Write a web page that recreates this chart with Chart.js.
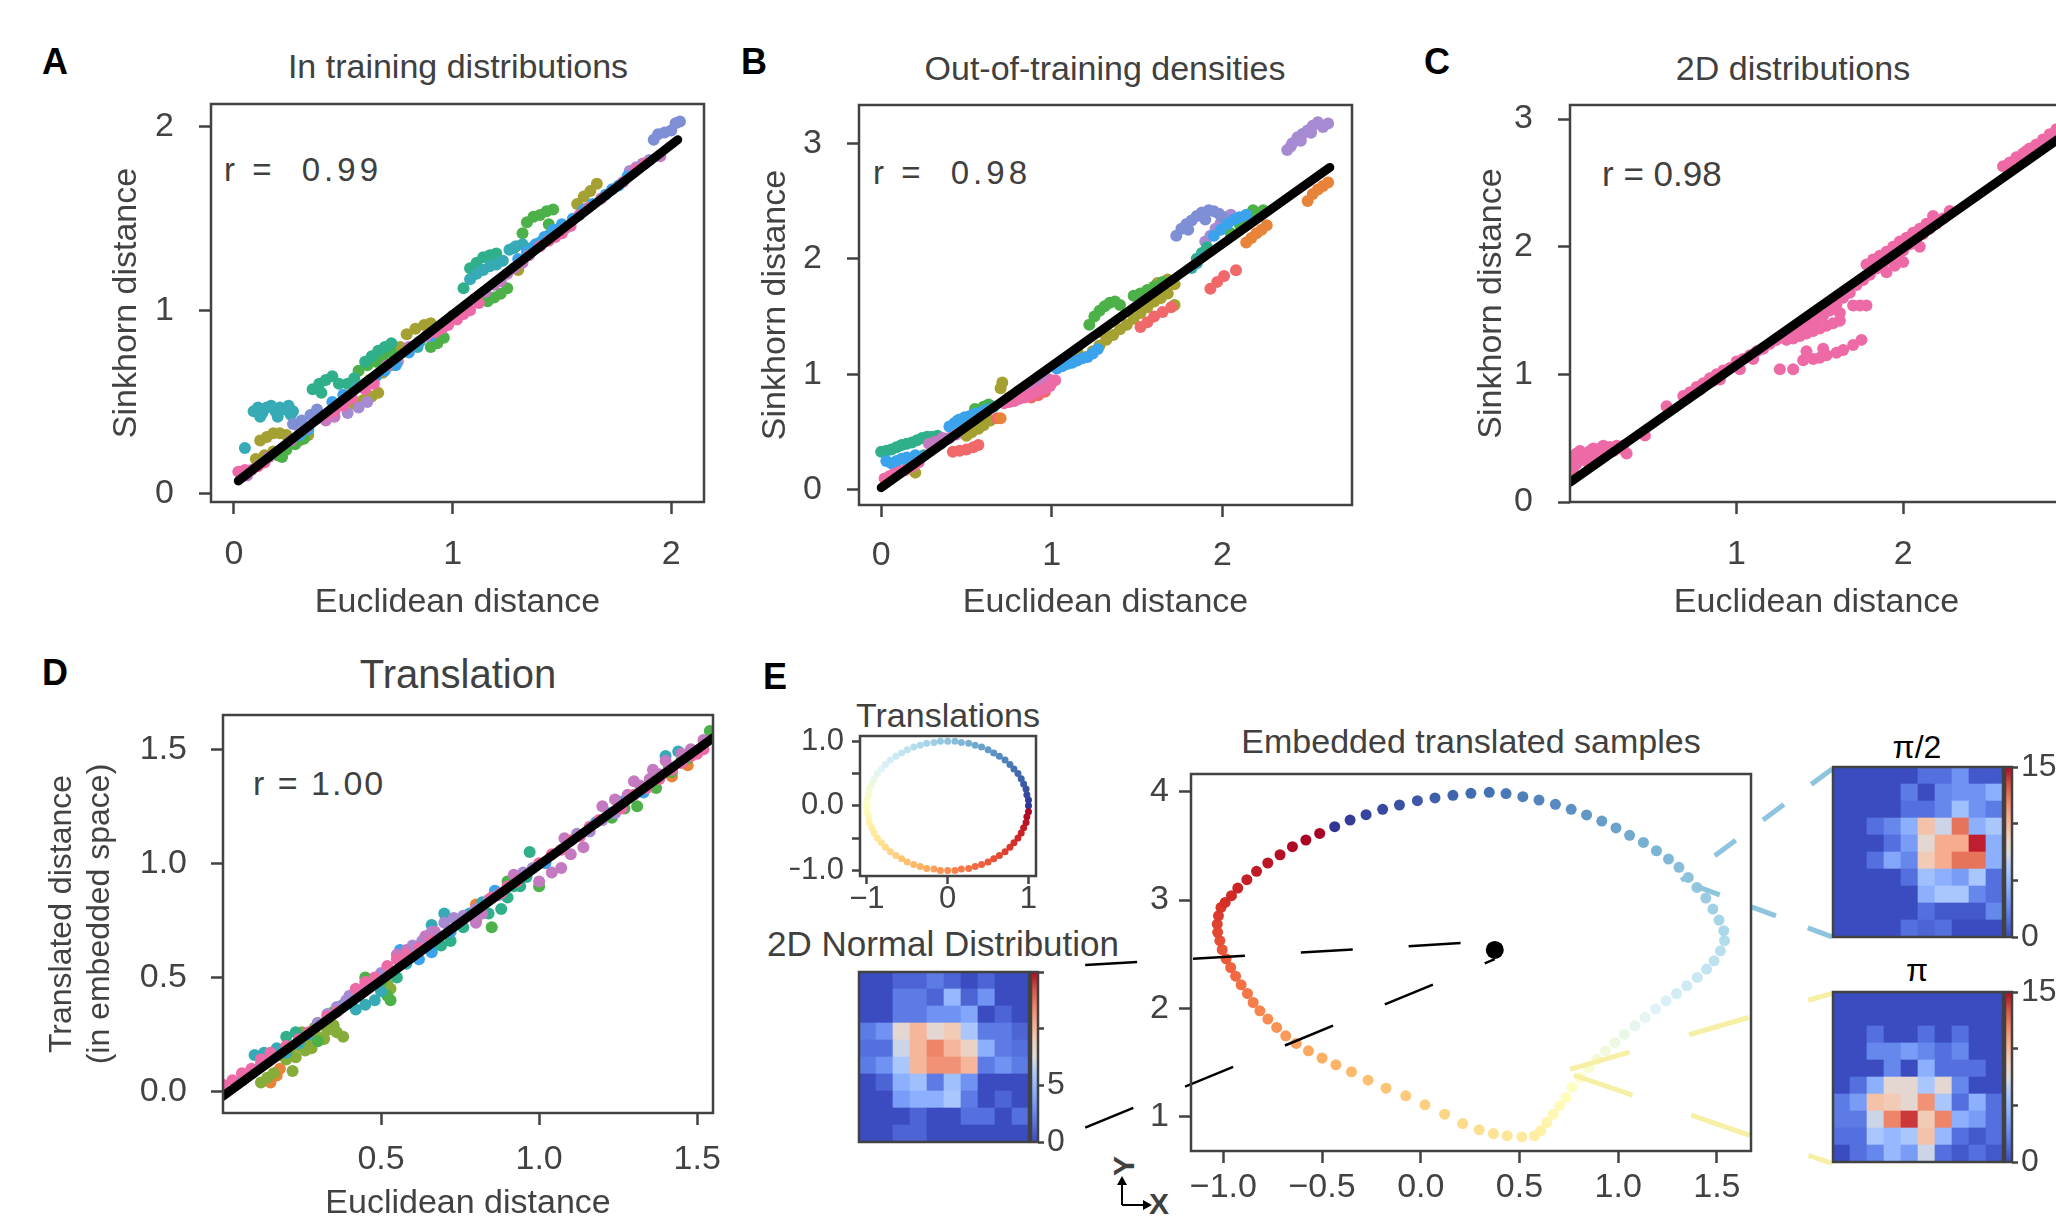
<!DOCTYPE html>
<html>
<head>
<meta charset="utf-8">
<script src="https://cdn.jsdelivr.net/npm/chart.js@4.4.0/dist/chart.umd.min.js"></script>
<style>
html, body { margin: 0; padding: 0; }
body { width: 2056px; height: 1216px; overflow: hidden; background: #fff; position: relative;
       font-family: "Liberation Sans", Arial, sans-serif; color: #404040; }
canvas { position: absolute; }
.c { position: absolute; transform: translate(-50%, -50%); line-height: 1; white-space: pre; }
.l { position: absolute; transform: translate(0, -50%); line-height: 1; white-space: pre; }
.k { color: #000; font-weight: bold; font-size: 36px; }
</style>
</head>
<body>

<!-- panel letters and titles -->
<div class="c k" style="left:55px;top:62px">A</div>
<div class="c k" style="left:754px;top:62px">B</div>
<div class="c k" style="left:1437px;top:62px">C</div>
<div class="c k" style="left:55px;top:673px">D</div>
<div class="c k" style="left:775px;top:677px">E</div>

<div class="c" style="left:458px;top:66px;font-size:34px">In training distributions</div>
<div class="c" style="left:1105px;top:68px;font-size:34px">Out-of-training densities</div>
<div class="c" style="left:1793px;top:68px;font-size:34px">2D distributions</div>
<div class="c" style="left:458px;top:674px;font-size:40px">Translation</div>
<div class="c" style="left:948px;top:715px;font-size:34px">Translations</div>
<div class="c" style="left:943px;top:943px;font-size:35px">2D Normal Distribution</div>
<div class="c" style="left:1471px;top:741px;font-size:34px">Embedded translated samples</div>
<div class="c" style="left:1917px;top:747px;font-size:32px;color:#000">π/2</div>
<div class="c" style="left:1917px;top:970px;font-size:32px;color:#000">π</div>

<!-- correlation labels -->
<div class="l" style="left:224px;top:169px;font-size:33px;letter-spacing:4px">r =  0.99</div>
<div class="l" style="left:873px;top:172px;font-size:33px;letter-spacing:4px">r =  0.98</div>
<div class="l" style="left:1602px;top:173px;font-size:35px">r = 0.98</div>
<div class="l" style="left:253px;top:783px;font-size:34px;letter-spacing:2px">r = 1.00</div>

<!-- small axis glyph -->
<div class="c" style="left:1124px;top:1166px;font-size:30px;font-weight:bold;transform:translate(-50%,-50%) rotate(-90deg)">Y</div>
<div class="c" style="left:1159px;top:1204px;font-size:30px;font-weight:bold">X</div>
<svg style="position:absolute;left:1110px;top:1172px" width="45" height="44">
  <path d="M12 33 L12 10 M12 33 L36 33" stroke="#000" stroke-width="2" fill="none"/>
  <path d="M12 4 L7 13 L17 13 Z M42 33 L33 28 L33 38 Z" fill="#000"/>
</svg>

<script>
// ---------- data ----------
// regression lines [x0,y0],[x1,y1]
const lineA = [[0.02, 0.07], [2.03, 1.93]];
const lineB = [[0.0, 0.02], [2.63, 2.79]];
const lineC = [[0.0, 0.154], [2.96, 2.87]];
const lineD = [[0.0, -0.02], [1.55, 1.55]];

// panel A, in training distributions
const aPink = [[0.02,0.12],[0.05,0.13],[0.08,0.13],[0.11,0.15],[0.14,0.17],[0.38,0.41],[0.42,0.43],[0.46,0.45],[0.5,0.48],[0.54,0.52],[0.6,0.57],[0.64,0.6],[0.92,0.88],[0.95,0.9],[0.98,0.92],[1.02,0.95],[1.05,0.98],[1.08,1.0],[1.12,1.04],[1.4,1.35],[1.44,1.38],[1.47,1.4],[1.5,1.42],[1.54,1.46],[1.84,1.77],[1.88,1.8]];
const aCyan = [[0.05,0.25],[0.09,0.45],[0.11,0.47],[0.13,0.44],[0.15,0.47],[0.17,0.48],[0.19,0.45],[0.21,0.47],[0.23,0.46],[0.25,0.48],[0.27,0.45],[0.12,0.42],[0.2,0.42],[0.26,0.43],[0.56,0.58],[0.6,0.6],[0.84,0.8],[1.08,1.17],[1.11,1.2],[1.14,1.22],[1.17,1.24],[1.2,1.25],[1.23,1.27],[1.26,1.33],[1.29,1.35],[1.32,1.36],[1.36,1.34],[1.4,1.37],[1.44,1.41],[1.48,1.44]];
const aTeal = [[0.36,0.57],[0.39,0.6],[0.42,0.62],[0.45,0.64],[0.48,0.6],[0.4,0.55],[0.52,0.6],[0.55,0.63],[0.6,0.72],[0.63,0.75],[0.66,0.78],[0.69,0.8],[0.72,0.82],[1.08,1.23],[1.11,1.26],[1.14,1.29],[1.17,1.3],[1.2,1.31],[1.05,1.12],[1.28,1.34]];
const aOlive = [[0.12,0.29],[0.15,0.31],[0.18,0.33],[0.21,0.33],[0.24,0.32],[0.1,0.19],[0.14,0.21],[0.18,0.23],[0.3,0.29],[0.34,0.32],[0.55,0.49],[0.59,0.51],[0.63,0.53],[0.66,0.55],[0.62,0.62],[0.68,0.66],[0.72,0.7],[0.76,0.8],[0.79,0.87],[0.83,0.9],[0.87,0.92],[0.9,0.93],[1.57,1.58],[1.6,1.62],[1.63,1.65],[1.66,1.69],[1.12,1.05],[1.3,1.22]];
const aGreen = [[0.2,0.21],[0.22,0.2],[0.24,0.24],[0.28,0.27],[0.32,0.3],[0.57,0.67],[0.61,0.7],[0.65,0.72],[0.68,0.75],[0.72,0.77],[0.9,0.8],[0.93,0.82],[0.96,0.85],[1.16,1.05],[1.19,1.07],[1.22,1.09],[1.25,1.12],[1.34,1.48],[1.37,1.51],[1.4,1.52],[1.43,1.54],[1.46,1.55],[1.32,1.42],[1.44,1.47]];
const aBlue = [[0.3,0.32],[0.34,0.35],[0.45,0.5],[0.5,0.54],[0.65,0.64],[0.69,0.67],[0.74,0.7],[0.8,0.77],[0.85,0.83],[0.9,0.86],[0.96,0.91],[1.3,1.28],[1.34,1.32],[1.38,1.36],[1.42,1.4],[1.46,1.44],[1.5,1.47],[1.55,1.5],[1.6,1.55],[1.64,1.58],[1.7,1.63],[1.73,1.66],[1.76,1.68],[1.8,1.73]];
const aPurple = [[0.3,0.36],[0.52,0.44],[0.57,0.47],[0.61,0.5],[0.75,0.72],[1.02,0.96],[1.81,1.76],[1.84,1.78],[1.87,1.8],[1.9,1.82]];
const aMagenta = [[0.06,0.1],[0.16,0.2],[0.26,0.29],[0.33,0.36],[0.42,0.4],[0.46,0.42],[0.7,0.7],[0.8,0.8],[0.88,0.86],[1.0,0.97],[1.1,1.06],[1.15,1.1],[1.19,1.14],[1.22,1.16],[1.25,1.2],[1.28,1.23],[1.32,1.26],[1.35,1.3],[1.52,1.45],[1.58,1.52],[1.62,1.56],[1.68,1.61],[1.78,1.7],[1.95,1.84]];
const aSlate = [[0.27,0.38],[0.31,0.4],[0.35,0.43],[0.38,0.46],[1.92,1.93],[1.94,1.96],[1.97,1.97],[2.0,1.98],[2.02,2.02],[2.04,2.03]];

// panel B, out-of-training densities
const bTeal = [[0.0,0.33],[0.03,0.34],[0.06,0.35],[0.09,0.37],[0.12,0.39],[0.15,0.4],[0.18,0.41],[0.21,0.43],[0.24,0.45],[0.27,0.46],[0.3,0.46],[0.33,0.47],[0.45,0.6],[0.55,0.62],[1.85,2.0],[1.88,2.05],[1.91,2.1]];
const bBlue = [[0.03,0.25],[0.06,0.23],[0.09,0.25],[0.12,0.27],[0.15,0.28],[0.2,0.3],[0.3,0.36],[0.4,0.55],[0.43,0.58],[0.46,0.61],[0.49,0.63],[0.52,0.64],[0.55,0.66],[0.6,0.68],[1.03,1.05],[1.06,1.07],[1.09,1.09],[1.12,1.1],[1.15,1.12],[1.18,1.14],[1.21,1.15],[1.24,1.18],[1.27,1.22],[1.95,2.2],[1.99,2.25],[2.03,2.3],[2.07,2.34],[2.1,2.36],[2.14,2.38]];
const bRed = [[0.42,0.33],[0.46,0.34],[0.5,0.35],[0.54,0.37],[0.57,0.39],[0.68,0.62],[0.88,0.8],[0.92,0.82],[0.96,0.85],[1.52,1.41],[1.56,1.45],[1.6,1.5],[1.65,1.54],[1.7,1.58],[1.93,1.74],[1.97,1.8],[2.01,1.85],[2.08,1.9]];
const bOlive = [[0.2,0.15],[0.5,0.47],[0.53,0.5],[0.57,0.53],[0.6,0.56],[0.64,0.6],[0.71,0.93],[0.7,0.88],[0.75,0.8],[0.8,0.85],[0.85,0.9],[1.1,1.15],[1.15,1.2],[1.2,1.15],[1.24,1.2],[1.28,1.25],[1.32,1.3],[1.36,1.34],[1.4,1.39],[1.44,1.43],[1.48,1.48],[1.52,1.53],[1.56,1.58],[1.6,1.63],[1.64,1.66],[1.3,1.36],[1.72,1.6],[1.68,1.82],[1.62,1.79],[1.68,1.7],[1.72,1.78]];
const bGreen = [[0.55,0.7],[0.6,0.72],[0.63,0.74],[1.22,1.43],[1.25,1.5],[1.28,1.55],[1.31,1.59],[1.34,1.62],[1.37,1.63],[1.4,1.6],[1.48,1.68],[1.52,1.7],[1.56,1.73],[1.6,1.76],[1.65,1.8],[2.1,2.3],[2.14,2.35],[2.18,2.42],[2.05,2.22],[2.2,2.38],[2.24,2.42]];
const bPink = [[0.02,0.1],[0.05,0.12],[0.08,0.14],[0.11,0.16],[0.14,0.17],[0.18,0.2],[0.22,0.24],[0.72,0.75],[0.75,0.76],[0.78,0.77],[0.81,0.79],[0.84,0.8],[0.87,0.82],[0.9,0.84],[0.93,0.86],[0.96,0.88],[0.99,0.9],[1.0,0.93],[1.02,0.95]];
const bMagenta = [[0.28,0.4],[0.32,0.42],[0.36,0.45],[0.4,0.45],[0.44,0.48],[0.86,0.88],[0.9,0.9],[0.94,0.93],[0.98,0.96]];
const bSlate = [[1.73,2.2],[1.76,2.26],[1.79,2.3],[1.82,2.33],[1.85,2.37],[1.88,2.4],[1.92,2.42],[1.95,2.41],[1.98,2.39],[2.0,2.36],[1.8,2.25],[1.9,2.34]];
const bPurple = [[1.9,2.15],[1.93,2.2],[1.96,2.26],[1.99,2.31],[2.02,2.36],[2.05,2.38],[2.38,2.94],[2.41,3.0],[2.44,3.05],[2.47,3.08],[2.5,3.11],[2.53,3.15],[2.56,3.18],[2.59,3.14],[2.62,3.17],[2.4,2.97],[2.46,3.02],[2.52,3.09]];
const bOrange = [[2.14,2.14],[2.17,2.18],[2.2,2.22],[2.23,2.25],[2.26,2.29],[2.5,2.5],[2.53,2.56],[2.56,2.6],[2.59,2.63],[2.62,2.66],[0.7,0.62]];
const bCyan = [[1.82,1.92],[1.85,1.96],[1.88,2.02],[0.08,0.21],[0.15,0.26],[0.25,0.3],[0.35,0.4],[0.58,0.67],[0.62,0.7],[0.66,0.72]];

// panel C, 2D distributions
const cPink = [[0.0,0.24],[0.0,0.3],[0.02,0.35],[0.02,0.27],[0.04,0.38],[0.04,0.3],[0.06,0.33],[0.06,0.4],[0.08,0.36],[0.1,0.38],[0.1,0.32],[0.12,0.4],[0.14,0.36],[0.14,0.42],[0.16,0.39],[0.18,0.42],[0.2,0.38],[0.2,0.44],[0.22,0.41],[0.24,0.43],[0.26,0.4],[0.28,0.44],[0.3,0.42],[0.32,0.44],[0.34,0.38],[0.45,0.52],[0.58,0.75],
  [0.68,0.83],[0.72,0.86],[0.76,0.9],[0.8,0.93],[0.84,0.97],[0.88,1.0],[0.92,1.03],[0.96,1.05],[1.0,1.1],[1.04,1.12],[1.08,1.15],[1.12,1.18],[1.16,1.2],[1.2,1.24],[1.24,1.27],[0.78,0.88],[0.86,0.95],[0.9,0.96],[1.02,1.04],[1.1,1.12],
  [1.28,1.31],[1.32,1.33],[1.36,1.36],[1.4,1.38],[1.44,1.4],[1.48,1.43],[1.52,1.46],[1.56,1.5],[1.6,1.55],[1.64,1.6],[1.3,1.27],[1.34,1.28],[1.38,1.3],[1.42,1.32],[1.46,1.34],[1.5,1.36],[1.54,1.38],[1.58,1.4],[1.62,1.42],[1.62,1.48],[1.7,1.54],[1.74,1.54],[1.78,1.54],
  [1.26,1.04],[1.34,1.04],[1.4,1.11],[1.46,1.12],[1.5,1.13],[1.54,1.15],[1.6,1.17],[1.64,1.19],[1.7,1.23],[1.75,1.27],[1.42,1.18],[1.52,1.2],
  [1.68,1.64],[1.72,1.7],[1.76,1.74],[1.8,1.78],[1.84,1.83],[1.88,1.87],[1.92,1.9],[1.96,1.93],[2.0,1.97],[2.04,2.02],[2.08,2.06],[2.12,2.1],[2.16,2.14],[2.2,2.18],[2.24,2.22],[1.78,1.86],[1.82,1.9],[1.86,1.93],[1.9,1.96],[1.94,2.0],[1.98,2.04],[2.02,2.07],[2.06,2.11],[2.1,2.14],[2.14,2.18],[2.18,2.24],[1.9,1.8],[1.95,1.85],[2.0,1.88],[2.1,2.0],[2.28,2.28],
  [2.6,2.63],[2.64,2.66],[2.68,2.7],[2.72,2.73],[2.76,2.77],[2.8,2.8],[2.84,2.84],[2.88,2.88],[2.92,2.92],[2.96,2.95],[2.74,2.75]];

// panel D, translation
const dPink = [[0.0,0.03],[0.03,0.05],[0.06,0.08],[0.09,0.1],[0.12,0.14],[0.15,0.17],[0.2,0.2],[0.24,0.23],[0.27,0.26],[0.33,0.33],[0.36,0.35],[0.42,0.45],[0.45,0.48],[0.48,0.5],[0.52,0.55],[0.55,0.58],[0.58,0.6],[0.62,0.63],[0.66,0.66],[0.85,0.85],[0.88,0.87],[0.9,0.9],[0.93,0.92],[1.0,1.0],[1.04,1.04],[1.07,1.06],[1.1,1.1],[1.13,1.12],[1.16,1.16],[1.19,1.19],[1.26,1.24],[1.3,1.3],[1.34,1.33],[1.38,1.37],[1.42,1.41],[1.45,1.44],[1.48,1.47],[1.5,1.48],[1.52,1.5]];
const dPurple = [[0.3,0.3],[0.33,0.34],[0.36,0.37],[0.39,0.4],[0.4,0.42],[0.44,0.44],[0.47,0.47],[0.5,0.52],[0.6,0.64],[0.63,0.66],[0.66,0.7],[0.7,0.74],[0.73,0.76],[0.76,0.77],[0.8,0.8],[0.84,0.84],[0.87,0.86],[0.95,0.96],[0.98,0.98],[1.12,1.13],[1.16,1.14],[1.2,1.19],[1.24,1.22]];
const dMagenta = [[0.12,0.12],[0.15,0.14],[0.55,0.6],[0.58,0.62],[0.64,0.68],[0.67,0.7],[0.8,0.74],[0.82,0.78],[0.92,0.95],[1.0,0.92],[1.04,0.96],[1.07,0.98],[1.1,1.04],[1.14,1.07],[1.08,1.11],[1.2,1.25],[1.24,1.28],[1.28,1.3],[1.32,1.34],[1.35,1.37],[1.38,1.39],[1.41,1.42],[1.3,1.36],[1.36,1.41],[1.4,1.45],[1.45,1.48],[1.48,1.5],[1.52,1.54]];
const dTeal = [[0.2,0.24],[0.23,0.26],[0.55,0.5],[0.6,0.6],[0.62,0.62],[0.66,0.62],[0.69,0.64],[0.72,0.66],[0.76,0.72],[0.8,0.75],[0.84,0.78],[0.88,0.8],[0.9,0.85],[0.92,0.9],[0.94,0.9],[0.96,0.94],[0.97,1.05]];
const dCyan = [[0.1,0.16],[0.13,0.17],[0.17,0.19],[0.2,0.17],[0.24,0.21],[0.27,0.25],[0.38,0.38],[0.42,0.36],[0.45,0.38],[0.48,0.4],[0.5,0.44],[0.58,0.56],[0.66,0.73],[0.7,0.78],[0.74,0.75],[0.78,0.78],[0.82,0.83],[1.4,1.47],[1.44,1.49]];
const dGreen = [[0.3,0.22],[0.3,0.3],[0.35,0.35],[0.45,0.5],[0.5,0.48],[0.52,0.42],[0.53,0.4],[0.85,0.72],[0.9,0.92],[1.0,0.9],[1.23,1.2],[1.27,1.24],[1.31,1.25],[1.37,1.33],[1.42,1.4],[1.45,1.45],[1.47,1.46],[1.5,1.49],[1.54,1.58]];
const dOlive = [[0.12,0.04],[0.14,0.06],[0.16,0.08],[0.18,0.16],[0.2,0.14],[0.21,0.18],[0.22,0.09],[0.23,0.15],[0.24,0.2],[0.26,0.18],[0.27,0.22],[0.28,0.19],[0.3,0.24],[0.32,0.23],[0.33,0.27],[0.35,0.29],[0.36,0.26],[0.38,0.24],[0.25,0.26],[0.29,0.28],[0.52,0.47],[0.53,0.45]];
const dOrange = [[0.15,0.04],[0.17,0.07],[0.18,0.1],[0.8,0.82],[1.42,1.38],[1.47,1.43]];
const dBlue = [[0.06,0.05],[0.09,0.08],[0.56,0.62],[0.62,0.58],[0.64,0.64],[0.66,0.61],[0.68,0.68],[0.72,0.7],[0.86,0.88],[1.02,1.0],[1.18,1.18],[1.22,1.22],[1.26,1.27],[1.33,1.31]];

// panel E, translations on the unit circle (every 5 degrees)
const ringPts = [[1.00,0.00],[1.00,0.09],[0.98,0.17],[0.97,0.26],[0.94,0.34],[0.91,0.42],[0.87,0.50],[0.82,0.57],[0.77,0.64],[0.71,0.71],[0.64,0.77],[0.57,0.82],[0.50,0.87],[0.42,0.91],[0.34,0.94],[0.26,0.97],[0.17,0.98],[0.09,1.00],
  [0.00,1.00],[-0.09,1.00],[-0.17,0.98],[-0.26,0.97],[-0.34,0.94],[-0.42,0.91],[-0.50,0.87],[-0.57,0.82],[-0.64,0.77],[-0.71,0.71],[-0.77,0.64],[-0.82,0.57],[-0.87,0.50],[-0.91,0.42],[-0.94,0.34],[-0.97,0.26],[-0.98,0.17],[-1.00,0.09],
  [-1.00,0.00],[-1.00,-0.09],[-0.98,-0.17],[-0.97,-0.26],[-0.94,-0.34],[-0.91,-0.42],[-0.87,-0.50],[-0.82,-0.57],[-0.77,-0.64],[-0.71,-0.71],[-0.64,-0.77],[-0.57,-0.82],[-0.50,-0.87],[-0.42,-0.91],[-0.34,-0.94],[-0.26,-0.97],[-0.17,-0.98],[-0.09,-1.00],
  [0.00,-1.00],[0.09,-1.00],[0.17,-0.98],[0.26,-0.97],[0.34,-0.94],[0.42,-0.91],[0.50,-0.87],[0.57,-0.82],[0.64,-0.77],[0.71,-0.71],[0.77,-0.64],[0.82,-0.57],[0.87,-0.50],[0.91,-0.42],[0.94,-0.34],[0.97,-0.26],[0.98,-0.17],[1.00,-0.09]];

// embedded translated samples (in translation order)
const embeddedPts = [[-0.436,3.677],[-0.358,3.738],[-0.277,3.788],[-0.193,3.837],[-0.108,3.877],[-0.017,3.917],[0.072,3.942],[0.163,3.966],[0.254,3.985],[0.347,3.994],
  [0.432,3.982],[0.517,3.954],[0.599,3.923],[0.682,3.883],[0.762,3.837],[0.840,3.785],[0.917,3.729],[0.989,3.665],[1.058,3.597],[1.128,3.532],
  [1.194,3.455],[1.255,3.378],[1.308,3.302],[1.355,3.209],[1.399,3.117],[1.444,3.018],[1.480,2.917],[1.511,2.815],[1.535,2.717],[1.539,2.625],
  [1.518,2.532],[1.486,2.440],[1.448,2.363],[1.401,2.286],[1.348,2.209],[1.296,2.138],[1.243,2.071],[1.190,1.994],[1.137,1.917],[1.084,1.840],
  [1.031,1.763],[0.984,1.686],[0.936,1.609],[0.893,1.532],[0.851,1.455],[0.809,1.363],[0.766,1.271],[0.735,1.178],[0.703,1.102],[0.671,1.025],
  [0.639,0.948],[0.608,0.871],[0.576,0.825],[0.512,0.815],[0.438,0.825],[0.368,0.846],[0.296,0.880],[0.212,0.938],[0.121,1.025],[0.021,1.111],
  [-0.076,1.194],[-0.176,1.265],[-0.267,1.338],[-0.351,1.415],[-0.430,1.480],[-0.500,1.542],[-0.569,1.609],[-0.631,1.677],[-0.684,1.748],[-0.730,1.825],
  [-0.775,1.902],[-0.815,1.978],[-0.849,2.055],[-0.878,2.138],[-0.910,2.218],[-0.938,2.298],[-0.963,2.378],[-0.986,2.458],[-1.006,2.542],[-1.018,2.625],
  [-1.029,2.702],[-1.031,2.778],[-1.025,2.855],[-1.012,2.932],[-0.991,2.978],[-0.959,3.040],[-0.927,3.111],[-0.881,3.188],[-0.832,3.265],[-0.775,3.342],
  [-0.713,3.418],[-0.650,3.492],[-0.582,3.554],[-0.512,3.615]];
const originPt = [[0.375, 2.54]];

// connector lines, in embedded-axis units
const linkNormal = [[[-1.70, 2.40], [0.36, 2.62]], [[-1.70, 0.90], [0.375, 2.455]]];
const linkHalfPi = [[[2.084, 4.21], [1.32, 3.18]], [[2.084, 2.66], [1.32, 3.18]]];
const linkPi = [[[2.084, 2.14], [0.72, 1.42]], [[2.084, 0.57], [0.72, 1.42]]];

// 10x10 sample histograms, top row first
const normalGrid = [
  [0,0,1,1,2,1,0,1,0,0],
  [0,0,2,2,1,5,1,3,0,0],
  [0,0,2,2,3,3,4,0,1,0],
  [2,3,8,10,8,9,6,2,2,1],
  [1.5,1.5,7,10,12,10,8.5,4.5,2,1.5],
  [2,3,6,10,11.5,11.5,10,2,3,2],
  [0,1,4.5,5.5,2,5.5,3,0,0,0],
  [0,0,3.5,4.5,4.5,6,2,0,1,0],
  [0,0,0,1,0,0,1.5,1.5,0,1.5],
  [0,0,1,1,0,0,0,0,0,0]];
const halfPiGrid = [
  [0,0,0,0,0,1.5,1.5,3,0.5,0.5],
  [0,0,0,0,2,0,2.5,3,3,4.5],
  [0,0,0,0,1.5,1.5,2.5,5.5,3,2],
  [0,0,1.5,2.5,4.5,9.5,7,12.5,4.5,6],
  [0,0,0,1.5,3.5,8,10.5,10.5,14.5,4.5],
  [0,0,1.5,4,2.5,9,10.5,12.5,12.5,4.5],
  [0,0,0,0,1.5,5.5,4.5,3.5,6,1.5],
  [0,0,0,0,0,4.5,6,6,2.5,1.5],
  [0,0,0,0,0,1.5,0.5,0.5,0.5,2.5],
  [0,0,0,0,1.5,1,1.5,0,0,0]];
const piGrid = [
  [0,0,0,0,0,0,0,0,0,0],
  [0,0,0,0,0,0,0,0,0,0],
  [0,0,1.5,0,0,1.5,0,1.5,0,0],
  [0,0,2.5,2.5,3.5,2.5,1.5,2.5,0,0],
  [0,0,0,2.5,0,4.5,1.5,1.5,1.5,0],
  [0,1.5,4.5,8,8,6,8,2.5,0,0],
  [2,3.5,9.5,9,8,11.5,6,1.5,4.5,1.5],
  [2,2,7,12,14,9,12,4.5,3.5,1.5],
  [1.5,1.5,6,5,6,9.5,5,1.5,0.5,1.5],
  [0,1.5,2.5,5,3.5,7,1.5,0.5,1.5,0.5]];

// tick values and labels
const ticks012 = [0, 1, 2];
const ticks0123 = [0, 1, 2, 3];
const ticksC = [1, 2];
const ticksD = [0.5, 1.0, 1.5];
const ticksDy = [0.0, 0.5, 1.0, 1.5];
const ringXTicks = [-1, 0, 1];
const ringYTicks = [-1, -0.5, 0, 0.5, 1];
const ringYLabels = ['−1.0', '', '0.0', '', '1.0'];
const embXTicks = [-1.0, -0.5, 0.0, 0.5, 1.0, 1.5];
const embYTicks = [1, 2, 3, 4];
const cbarTicks = [0, 5, 10, 15];
const normalCbarLabels = ['0', '5', '', ''];
const rotCbarLabels = ['0', '', '', '15'];

// ---------- colours ----------
const INK = '#424242';
const PINK = '#ee6aa7', CYAN = '#37abb5', TEAL = '#2fb08b', OLIVE = '#a4a031', GREEN = '#4cb149',
      BLUE = '#3ba3ec', PURPLE = '#a68bd2', MAGENTA = '#c47ac0', SLATE = '#7f8fd6',
      ORANGE = '#e8833a', RED = '#f0686a', DOLIVE = '#86ad3a';

const coolwarmStops = ['#3b4cc0','#5470de','#6f92f3','#8db0fe','#aac7fd','#dddcdc','#f2cbb7','#f7ac8e','#ee8468','#d65244','#b40426'];
const rdylbuStops = ['#313695','#4575b4','#74add1','#abd9e9','#e0f3f8','#ffffbf','#fee090','#fdae61','#f46d43','#d73027','#a50026'];

function hex(h) { return [1, 3, 5].map(i => parseInt(h.substr(i, 2), 16)); }
function cmap(stops, t) {
  t = Math.max(0, Math.min(1, t));
  const p = t * (stops.length - 1), i = Math.min(Math.floor(p), stops.length - 2), f = p - i;
  const a = hex(stops[i]), b = hex(stops[i + 1]);
  return 'rgb(' + a.map((v, k) => Math.round(v + (b[k] - v) * f)).join(',') + ')';
}

// ---------- helpers ----------
Chart.defaults.font.family = '"Liberation Sans", Arial, sans-serif';
Chart.defaults.color = INK;

const frame = {
  id: 'frame',
  afterDatasetsDraw(chart) {
    const a = chart.chartArea, ctx = chart.ctx;
    ctx.save();
    ctx.strokeStyle = INK;
    ctx.lineWidth = 2.5;
    ctx.strokeRect(a.left, a.top, a.right - a.left, a.bottom - a.top);
    ctx.restore();
  }
};

function addCanvas(x, y, w, h) {
  const c = document.createElement('canvas');
  c.width = w; c.height = h;
  c.style.left = x + 'px'; c.style.top = y + 'px';
  c.style.width = w + 'px'; c.style.height = h + 'px';
  document.body.appendChild(c);
  return c;
}

function axis(o) {
  return {
    type: 'linear', position: o.pos, min: o.min, max: o.max,
    afterBuildTicks: s => { s.ticks = o.ticks.map(v => ({ value: v })); },
    afterFit: s => { if (o.pos === 'left' || o.pos === 'right') s.width = o.size; else s.height = o.size; },
    border: { display: false },
    grid: { drawOnChartArea: false, drawTicks: true, tickLength: o.tl, tickWidth: 2.5, tickColor: INK, color: INK },
    ticks: { font: { size: o.fs, lineHeight: o.lh || 1.2 }, color: INK, padding: o.pad, autoSkip: false, maxRotation: 0,
             callback: (v, i) => o.labels ? o.labels[i] : String(v) },
    title: o.title ? { display: true, text: o.title, color: INK, font: { size: o.tfs },
                       padding: { top: o.tpad, bottom: o.tpad } } : { display: false }
  };
}

function pts(data, color, r) {
  return { data: data, backgroundColor: color, pointRadius: r || 6, pointBorderWidth: 0, borderWidth: 0, order: 1 };
}
function fitLine(data) {
  return { data: data, showLine: true, borderColor: '#000', borderWidth: 9, pointRadius: 0,
           borderCapStyle: 'round', order: 0 };
}

function scatterPanel(p) {
  const c = addCanvas(p.cl, p.ct, p.cr - p.cl, p.cb - p.ct);
  return new Chart(c, {
    type: 'scatter',
    data: { datasets: p.datasets },
    options: {
      responsive: false, animation: false,
      layout: { padding: { left: 0, top: p.box.t - p.ct, right: p.cr - p.box.r, bottom: 0 }, autoPadding: false },
      scales: { x: p.x, y: p.y },
      plugins: { legend: { display: false }, tooltip: { enabled: false } }
    },
    plugins: [frame]
  });
}

// ---------- panels A-D ----------
scatterPanel({
  box: { l: 211, t: 104, r: 704, b: 502 }, cl: 82, ct: 50, cr: 749, cb: 648,
  x: axis({ pos: 'bottom', min: -0.105, max: 2.15, ticks: ticks012, size: 146, tl: 12, pad: 20, fs: 34, title: 'Euclidean distance', tfs: 34, tpad: 24.6 }),
  y: axis({ pos: 'left', min: -0.045, max: 2.125, ticks: ticks012, size: 129, tl: 12, pad: 25, fs: 34, title: 'Sinkhorn distance', tfs: 34, tpad: 24.6 }),
  datasets: [fitLine(lineA), pts(aSlate, SLATE), pts(aPink, PINK), pts(aMagenta, MAGENTA), pts(aBlue, BLUE), pts(aPurple, PURPLE),
             pts(aCyan, CYAN), pts(aTeal, TEAL), pts(aGreen, GREEN), pts(aOlive, OLIVE)]
});

scatterPanel({
  box: { l: 859, t: 105, r: 1352, b: 505 }, cl: 731, ct: 50, cr: 1397, cb: 648,
  x: axis({ pos: 'bottom', min: -0.13, max: 2.76, ticks: ticks012, size: 143, tl: 12, pad: 18, fs: 34, title: 'Euclidean distance', tfs: 34, tpad: 24.6 }),
  y: axis({ pos: 'left', min: -0.13, max: 3.33, ticks: ticks0123, size: 128, tl: 12, pad: 25, fs: 34, title: 'Sinkhorn distance', tfs: 34, tpad: 24.6 }),
  datasets: [fitLine(lineB), pts(bPink, PINK), pts(bMagenta, MAGENTA), pts(bBlue, BLUE), pts(bCyan, CYAN), pts(bTeal, TEAL),
             pts(bSlate, SLATE), pts(bPurple, PURPLE), pts(bOrange, ORANGE), pts(bRed, RED), pts(bGreen, GREEN), pts(bOlive, OLIVE)]
});

scatterPanel({
  box: { l: 1570, t: 105, r: 2063, b: 502 }, cl: 1447, ct: 50, cr: 2108, cb: 648,
  x: axis({ pos: 'bottom', min: 0, max: 2.96, ticks: ticksC, size: 146, tl: 12, pad: 20, fs: 34, title: 'Euclidean distance', tfs: 34, tpad: 24.6 }),
  y: axis({ pos: 'left', min: 0, max: 3.11, ticks: ticks0123, size: 123, tl: 12, pad: 25, fs: 34, title: 'Sinkhorn distance', tfs: 34, tpad: 24.6 }),
  datasets: [fitLine(lineC), pts(cPink, PINK)]
});

scatterPanel({
  box: { l: 223, t: 715, r: 713, b: 1113 }, cl: 17, ct: 660, cr: 758, cb: 1249,
  x: axis({ pos: 'bottom', min: 0, max: 1.55, ticks: ticksD, labels: ticksD.map(v => v.toFixed(1)), size: 136, tl: 12, pad: 14, fs: 34, title: 'Euclidean distance', tfs: 34, tpad: 24.6 }),
  y: axis({ pos: 'left', min: -0.094, max: 1.65, ticks: ticksDy, labels: ticksDy.map(v => v.toFixed(1)), size: 206, tl: 12, pad: 24, fs: 34,
            title: ['Translated distance', '(in embedded space)'], tfs: 32, tpad: 25.8 }),
  datasets: [fitLine(lineD), pts(dPink, PINK), pts(dMagenta, MAGENTA), pts(dPurple, PURPLE), pts(dBlue, BLUE), pts(dCyan, CYAN),
             pts(dTeal, TEAL), pts(dGreen, GREEN), pts(dOlive, DOLIVE), pts(dOrange, ORANGE)]
});

// ---------- panel E ----------
// translations ring
scatterPanel({
  box: { l: 860, t: 736, r: 1036, b: 876 }, cl: 790, ct: 704, cr: 1056, cb: 930,
  x: axis({ pos: 'bottom', min: -1.085, max: 1.093, ticks: ringXTicks, labels: ringXTicks.map(v => String(v).replace('-', '−')), size: 54, tl: 8, pad: 0, fs: 31, lh: 1 }),
  y: axis({ pos: 'left', min: -1.087, max: 1.082, ticks: ringYTicks, labels: ringYLabels, size: 70, tl: 8, pad: 8, fs: 31 }),
  datasets: [{ data: ringPts, pointRadius: 3.5, pointBorderWidth: 0,
               backgroundColor: ringPts.map((_, i) => cmap(rdylbuStops, i / ringPts.length)) }]
});

// embedded curve with connector lines
function link(seg, color, width, dash, offset) {
  return { data: seg, showLine: true, borderColor: color, borderWidth: width, borderDash: dash, borderDashOffset: offset || 0,
           pointRadius: 0, clip: false, order: 0 };
}
scatterPanel({
  box: { l: 1191, t: 774, r: 1751, b: 1151 }, cl: 1060, ct: 736, cr: 1845, cb: 1216,
  x: axis({ pos: 'bottom', min: -1.164, max: 1.673, ticks: embXTicks, labels: embXTicks.map(v => v.toFixed(1).replace('-', '−')), size: 65, tl: 12, pad: 4, fs: 34 }),
  y: axis({ pos: 'left', min: 0.685, max: 4.163, ticks: embYTicks, size: 131, tl: 12, pad: 10, fs: 34 }),
  datasets: [
    link(linkNormal[0], '#000', 2.5, [52, 56]), link(linkNormal[1], '#000', 2.5, [52, 56]),
    link(linkHalfPi[0], '#8ec4de', 5, [26, 34]), link(linkHalfPi[1], '#8ec4de', 5, [26, 34]),
    link(linkPi[0], '#f6f0a6', 5, [62, 62], 37), link(linkPi[1], '#f6f0a6', 5, [62, 62], 37),
    { data: originPt, backgroundColor: '#000', pointRadius: 9, pointBorderWidth: 0, order: 1 },
    { data: embeddedPts, pointRadius: 5.5, pointBorderWidth: 0, order: 2,
      backgroundColor: embeddedPts.map((_, i) => cmap(rdylbuStops, i / (embeddedPts.length - 1))) }
  ]
});

// heatmaps as stacked unit bars, one dataset per row
function heatmap(x, y, size, grid) {
  const c = addCanvas(x - 3, y - 3, size + 6, size + 6);
  const cols = grid[0].map((_, i) => String(i));
  const datasets = grid.slice().reverse().map(row => ({
    data: row.map(() => 1),
    backgroundColor: row.map(v => cmap(coolwarmStops, v / 15)),
    borderWidth: 0, borderSkipped: false, barPercentage: 1, categoryPercentage: 1
  }));
  new Chart(c, {
    type: 'bar',
    data: { labels: cols, datasets: datasets },
    options: {
      responsive: false, animation: false,
      layout: { padding: 3, autoPadding: false },
      scales: { x: { stacked: true, display: false }, y: { stacked: true, display: false, min: 0, max: grid.length } },
      plugins: { legend: { display: false }, tooltip: { enabled: false } }
    },
    plugins: [frame]
  });
}

function colorbar(x, y, w, h, labels) {
  const padT = 26, padR = 70;
  const c = addCanvas(x - 3, y - padT, w + 3 + padR, h + 2 * padT);
  new Chart(c, {
    type: 'bar',
    data: { labels: ['c'], datasets: [{ data: [15], borderWidth: 0, borderSkipped: false, barPercentage: 1, categoryPercentage: 1,
      backgroundColor: ctx => {
        const a = ctx.chart.chartArea;
        if (!a) return coolwarmStops[0];
        const g = ctx.chart.ctx.createLinearGradient(0, a.bottom, 0, a.top);
        coolwarmStops.forEach((s, i) => g.addColorStop(i / (coolwarmStops.length - 1), s));
        return g;
      } }] },
    options: {
      responsive: false, animation: false,
      layout: { padding: { left: 3, top: padT, bottom: padT, right: 0 }, autoPadding: false },
      scales: { x: { display: false },
                y: axis({ pos: 'right', min: 0, max: 15, ticks: cbarTicks, labels: labels, size: padR, tl: 6, pad: 3, fs: 32 }) },
      plugins: { legend: { display: false }, tooltip: { enabled: false } }
    },
    plugins: [frame]
  });
}

heatmap(859, 972, 170, normalGrid);
colorbar(1031, 972, 7, 170, normalCbarLabels);
heatmap(1833, 767, 170, halfPiGrid);
colorbar(2005, 767, 7, 170, rotCbarLabels);
heatmap(1833, 992, 170, piGrid);
colorbar(2005, 992, 7, 170, rotCbarLabels);
</script>
</body>
</html>
